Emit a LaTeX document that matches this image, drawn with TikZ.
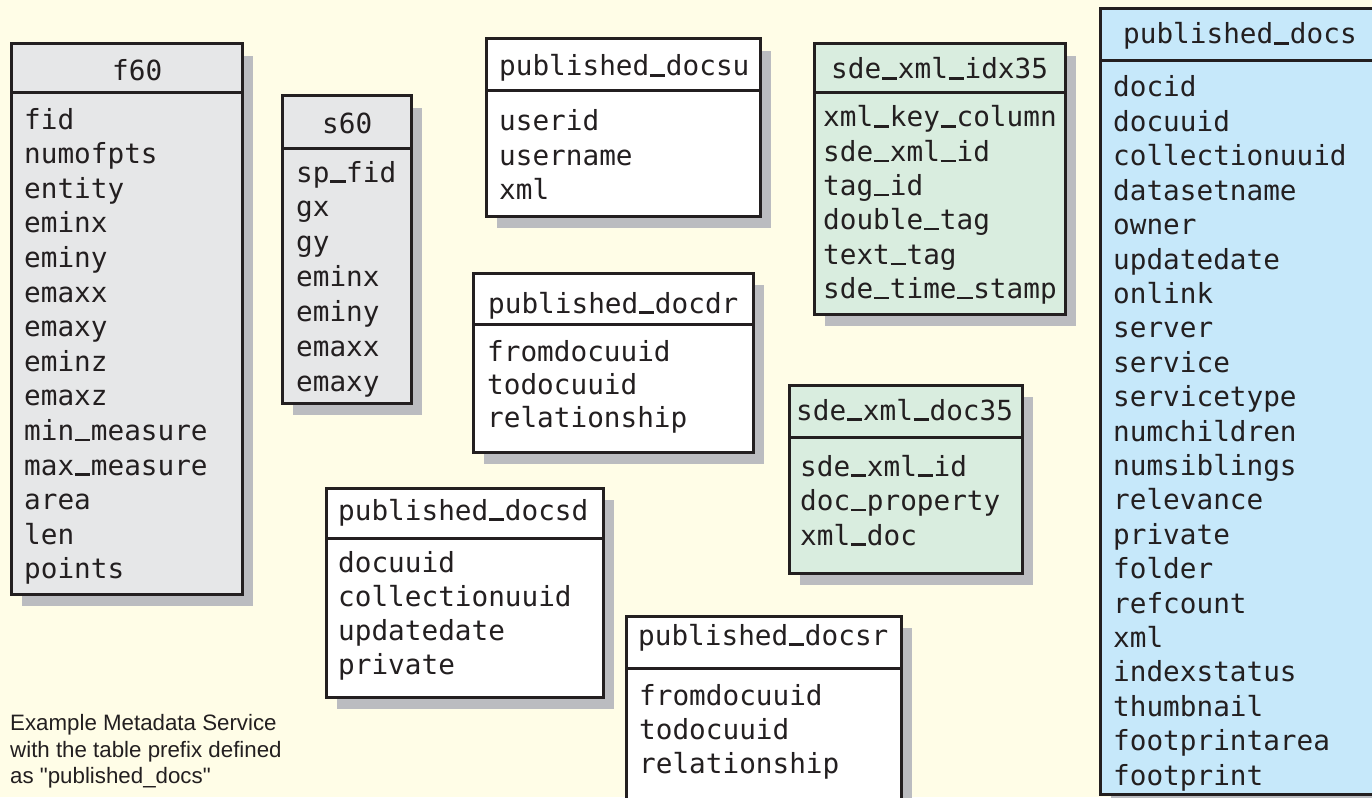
\documentclass[tikz,border=0pt]{standalone}
\usepackage{fontspec}
\newfontfamily\capfont{Liberation Sans}
\newfontfamily\monof{DejaVu Sans Mono}
\definecolor{bgcol}{HTML}{FFFDE7}
\definecolor{shadowgray}{HTML}{BBBCC0}
\definecolor{linecol}{HTML}{231F20}
\definecolor{grayfill}{HTML}{E6E7E8}
\definecolor{greenfill}{HTML}{D9EDDF}
\definecolor{bluefill}{HTML}{C6E8FA}
\newcommand\us{\makebox[0.602em][c]{\rule[-0.02em]{0.56em}{0.075em}}}
\newcommand\tablebox[6]{% x1 y1 x2 y2 ydiv fill
  \fill[shadowgray] (#1+11,#2+12) rectangle (#3+11,#4+12);
  \filldraw[fill=#6,tframe] (#1,#2) rectangle (#3,#4);
  \draw[tframe] (#1,#5) -- (#3,#5);
}
\newcommand\tablerows[5]{% prefix x y0 step list
  \foreach \t [count=\i] in {#5} {\node[cell] (#1\i) at (#2,#3+\i*#4-#4) {\t};}
}
\begin{document}
\begin{tikzpicture}[x=1pt,y=-1pt,
  tframe/.style={draw=linecol,line width=3pt},
  cell/.style={font=\monof\fontsize{27.7}{30}\selectfont, text=linecol, anchor=base west, inner sep=0pt},
  captext/.style={font=\capfont\fontsize{22.3}{26}\selectfont, text=linecol, anchor=base west, inner sep=0pt}]
\useasboundingbox (0,0) rectangle (1372,797);
\clip (0,0) rectangle (1372,797);
\fill[bgcol] (0,0) rectangle (1372,797);

% f60
\tablebox{11}{44}{242}{594}{93}{grayfill}
\node[cell] (f60t) at (112,81) {f60};
\tablerows{f60r}{24}{129}{34.6}{fid,numofpts,entity,eminx,eminy,emaxx,emaxy,eminz,emaxz,min\us measure,max\us measure,area,len,points}

% s60
\tablebox{282}{96}{411}{403}{148}{grayfill}
\node[cell] (s60t) at (322,133) {s60};
\tablerows{s60r}{296}{182}{34.9}{sp\us fid,gx,gy,eminx,eminy,emaxx,emaxy}

% published_docsu
\tablebox{486}{39}{760}{216}{91}{white}
\node[cell] (dut) at (499,76) {published\us docsu};
\tablerows{dur}{499}{131}{34}{userid,username,xml}

% published_docdr
\tablebox{473}{273}{753}{452}{324}{white}
\node[cell] (drt) at (488,313) {published\us docdr};
\tablerows{drr}{487}{361}{33}{fromdocuuid,todocuuid,relationship}

% published_docsd
\tablebox{326}{488}{603}{697}{538}{white}
\node[cell] (sdt) at (338,520) {published\us docsd};
\tablerows{sdr}{338}{572}{34}{docuuid,collectionuuid,updatedate,private}

% published_docsr
\tablebox{626}{616}{901}{815}{668}{white}
\node[cell] (srt) at (638,645) {published\us docsr};
\tablerows{srr}{639}{705}{34}{fromdocuuid,todocuuid,relationship}

% sde_xml_idx35
\tablebox{814}{44}{1065}{314}{93}{greenfill}
\node[cell] (ixt) at (831,79) {sde\us xml\us idx35};
\tablerows{ixr}{823}{127}{34.3}{xml\us key\us column,sde\us xml\us id,tag\us id,double\us tag,text\us tag,sde\us time\us stamp}

% sde_xml_doc35
\tablebox{789}{385}{1022}{573}{437}{greenfill}
\node[cell] (dct) at (796,420) {sde\us xml\us doc35};
\tablerows{dcr}{800}{476}{34.5}{sde\us xml\us id,doc\us property,xml\us doc}

% published_docs
\tablebox{1100}{9}{1395}{794}{61}{bluefill}
\node[cell] (pdt) at (1123,44) {published\us docs};
\tablerows{pdr}{1113}{97}{34.4}{docid,docuuid,collectionuuid,datasetname,owner,updatedate,onlink,server,service,servicetype,numchildren,numsiblings,relevance,private,folder,refcount,xml,indexstatus,thumbnail,footprintarea,footprint}

% caption
\node[captext] (cap1) at (10,730.7) {Example Metadata Service};
\node[captext] (cap2) at (10,757) {with the table prefix defined};
\node[captext] (cap3) at (10,783) {as "published\_docs"};
\end{tikzpicture}
\end{document}
